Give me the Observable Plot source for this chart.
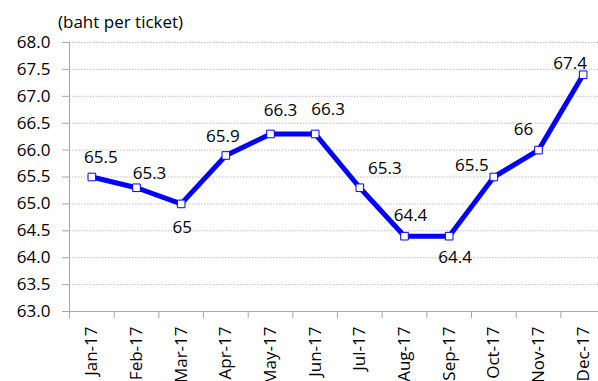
<!DOCTYPE html>
<html>
<head>
<meta charset="utf-8">
<script src="https://cdn.jsdelivr.net/npm/d3@7"></script>
<script src="https://cdn.jsdelivr.net/npm/@observablehq/plot@0.6"></script>
<style>
  body { margin: 0; background: #fff; }
  #wrap { position: relative; width: 598px; height: 381px; overflow: hidden; }
  #title {
    position: absolute; left: 58px; top: 13px;
    font: 17px "Open Sans", sans-serif; line-height: 1; color: #000;
  }
</style>
</head>
<body>
<div id="wrap">
  <div id="title">(baht per ticket)</div>
</div>
<script>
// Average ticket price by month, 2017
const months = ["Jan-17", "Feb-17", "Mar-17", "Apr-17", "May-17", "Jun-17",
                "Jul-17", "Aug-17", "Sep-17", "Oct-17", "Nov-17", "Dec-17"];
const price = [65.5, 65.3, 65, 65.9, 66.3, 66.3, 65.3, 64.4, 64.4, 65.5, 66, 67.4];
const yTicks = [63, 63.5, 64, 64.5, 65, 65.5, 66, 66.5, 67, 67.5, 68];

// Pixel nudges that keep each value label clear of the line
const labelNudge = [[9, -19], [13, -14], [1, 24], [-3, -19], [10, -23], [13, -24],
                    [25, -19], [6, -21], [6, 21], [-22, -11], [-15, -21], [-13, -11]];

const idx = d3.range(months.length);
const font = '"Open Sans", sans-serif';
const axisGray = "#a6a6a6";
const blue = "#0000ff";

const chart = Plot.plot({
  width: 598,
  height: 381,
  marginLeft: 69,
  marginRight: -7,
  marginTop: 42,
  marginBottom: 70,
  style: { fontFamily: font, fontSize: "17px", color: "#000", maxWidth: "none", overflow: "hidden" },
  x: { type: "linear", domain: [0, months.length] },
  y: { domain: [63, 68] },
  marks: [
    Plot.gridY(yTicks.slice(1), { stroke: "#bfbfbf", strokeOpacity: 1, strokeDasharray: "1.5,1.5" }),
    // y axis with outward ticks and one-decimal labels
    Plot.axisY({ ticks: yTicks, tickFormat: d3.format(".1f"), tickSize: 7, tickPadding: 12,
                 stroke: axisGray, fill: "#000", label: null, fontSize: 17 }),
    Plot.ruleX([0], { y1: 63, y2: 68, stroke: axisGray }),
    Plot.ruleY([63], { stroke: axisGray }),
    // category boundary ticks along the bottom
    Plot.axisX({ ticks: d3.range(months.length + 1), tickFormat: () => "", tickSize: 7,
                 stroke: axisGray, label: null }),
    // rotated month labels centred in each slot
    Plot.axisX({ ticks: idx.map(i => i + 0.5), tickFormat: v => months[Math.floor(v)],
                 tickSize: 0, tickPadding: 15, tickRotate: -90, fill: "#000",
                 label: null, fontSize: 17 }),
    Plot.line(idx, { x: i => i + 0.5, y: i => price[i], stroke: blue, strokeWidth: 5,
                     strokeLinejoin: "miter" }),
    Plot.dot(idx, { x: i => i + 0.5, y: i => price[i], symbol: "square", r: 4.3,
                    fill: "white", stroke: blue, strokeWidth: 1 }),
    ...idx.map(i => Plot.text([i], {
      x: j => j + 0.5, y: j => price[j], text: j => String(price[j]),
      dx: labelNudge[i][0], dy: labelNudge[i][1], fill: "#000", fontSize: 17
    }))
  ]
});

document.getElementById("wrap").appendChild(chart);
</script>
</body>
</html>
